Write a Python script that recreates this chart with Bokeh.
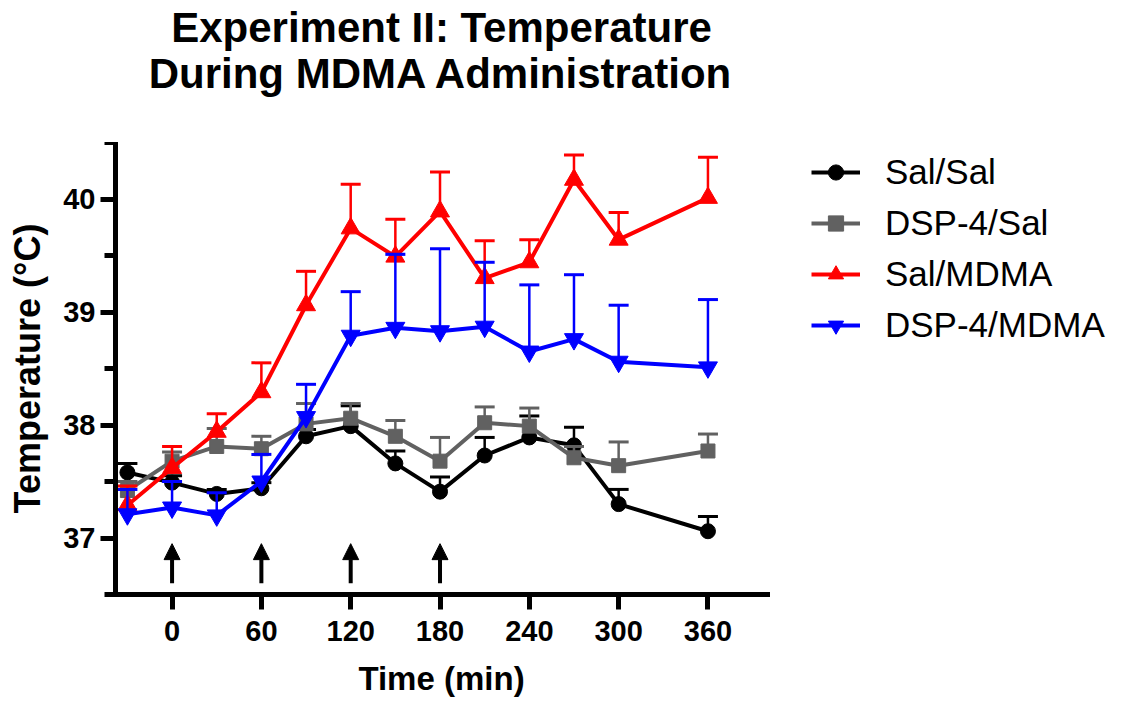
from bokeh.plotting import figure
from bokeh.models import FixedTicker, Arrow, NormalHead, Legend, LegendItem, Range1d, Label
from bokeh.layouts import row, column
from bokeh.embed import file_html
from bokeh.resources import INLINE

# ---- data ----
time_min = [-30, 0, 30, 60, 90, 120, 150, 180, 210, 240, 270, 300, 360]

sal_sal = [37.58, 37.49, 37.39, 37.44, 37.90, 37.99, 37.66, 37.41, 37.73, 37.89, 37.82, 37.30, 37.06]
sal_sal_sem = [0.08, 0.06, 0.04, 0.05, 0.06, 0.18, 0.11, 0.13, 0.16, 0.19, 0.16, 0.13, 0.13]

dsp_sal = [37.42, 37.68, 37.81, 37.79, 38.01, 38.06, 37.90, 37.68, 38.02, 37.99, 37.71, 37.64, 37.77]
dsp_sal_sem = [0.08, 0.08, 0.16, 0.11, 0.18, 0.13, 0.14, 0.21, 0.14, 0.16, 0.10, 0.21, 0.15]

sal_mdma = [37.29, 37.62, 37.94, 38.29, 39.06, 39.74, 39.49, 39.89, 39.30, 39.44, 40.17, 39.64, 40.01]
sal_mdma_sem = [0.17, 0.19, 0.16, 0.26, 0.30, 0.39, 0.33, 0.35, 0.33, 0.20, 0.22, 0.24, 0.36]

dsp_mdma = [37.21, 37.27, 37.20, 37.50, 38.07, 38.79, 38.86, 38.83, 38.87, 38.65, 38.76, 38.56, 38.51]
dsp_mdma_sem = [0.22, 0.23, 0.20, 0.24, 0.29, 0.39, 0.65, 0.73, 0.57, 0.59, 0.57, 0.50, 0.60]

x_ticks = [0, 60, 120, 180, 240, 300, 360]
y_ticks = [37, 38, 39, 40]
y_minor_ticks = [36.5, 37.5, 38.5, 39.5, 40.5]
injection_times = [0, 60, 120, 180]
arrow_tail, arrow_tip = 36.6, 36.95

title_lines = ["Experiment II: Temperature", "During MDMA Administration"]

series = [
    ("Sal/Sal", sal_sal, sal_sal_sem, "#000000", "circle", 15),
    ("DSP-4/Sal", dsp_sal, dsp_sal_sem, "#616161", "square", 14),
    ("Sal/MDMA", sal_mdma, sal_mdma_sem, "#FF0000", "triangle", 19),
    ("DSP-4/MDMA", dsp_mdma, dsp_mdma_sem, "#0000FF", "inverted_triangle", 19),
]

FONT = "Liberation Sans"
W, H = 1121, 702
TOP_H = 142          # title strip height
MAIN_W = 790         # main plot width
LEG_W = W - MAIN_W   # legend strip width

# ---------------- title strip ----------------
tf = figure(width=W, height=TOP_H, output_backend="svg", toolbar_location=None,
            x_range=Range1d(0, W), y_range=Range1d(0, TOP_H),
            x_axis_type=None, y_axis_type=None, title=None,
            min_border_left=0, min_border_right=0, min_border_top=0, min_border_bottom=0)
tf.outline_line_color = None
tf.grid.visible = False
title_cx = 441
title_base = [TOP_H - 27, TOP_H - 73]
for txt, ty in zip(title_lines, title_base):
    tf.add_layout(Label(x=title_cx, y=ty, text=txt, text_align="center", text_baseline="alphabetic",
                        text_font=FONT, text_font_size="42px", text_font_style="bold",
                        text_color="black"))

# ---------------- main plot ----------------
p = figure(width=MAIN_W, height=H - TOP_H, output_backend="svg", toolbar_location=None,
           x_range=Range1d(-38, 400), y_range=Range1d(36.5, 40.5), title=None,
           min_border_left=115, min_border_right=MAIN_W - 767, min_border_top=0,
           min_border_bottom=108)
p.outline_line_color = None
p.grid.visible = False

for ax in (p.xaxis[0], p.yaxis[0]):
    ax.axis_line_width = 5
    ax.axis_line_cap = "square"
    ax.axis_line_color = "black"
    ax.major_tick_line_color = "black"
    ax.minor_tick_line_color = "black"
    ax.major_tick_line_width = 5
    ax.minor_tick_line_width = 5
    ax.major_tick_in = 0
    ax.minor_tick_in = 0
    ax.major_tick_out = 15
    ax.major_label_text_font = FONT
    ax.major_label_text_font_style = "bold"
    ax.major_label_text_font_size = "29px"
    ax.major_label_text_color = "black"
    ax.axis_label_text_font = FONT
    ax.axis_label_text_font_style = "bold"
    ax.axis_label_text_color = "black"

p.xaxis.ticker = FixedTicker(ticks=x_ticks)
p.xaxis.minor_tick_out = 0
p.xaxis.major_label_standoff = 11
p.xaxis.axis_label = "Time (min)"
p.xaxis.axis_label_text_font_size = "33px"
p.xaxis.axis_label_standoff = 16

p.yaxis.ticker = FixedTicker(ticks=y_ticks, minor_ticks=y_minor_ticks)
p.yaxis.minor_tick_out = 11
p.yaxis.major_label_standoff = 5
p.yaxis.axis_label = "Temperature (\u00b0C)"
p.yaxis.axis_label_text_font_size = "36px"
p.yaxis.axis_label_standoff = 12

for name, vals, sems, color, marker, size in series:
    hi = [v + s for v, s in zip(vals, sems)]
    p.segment(x0=time_min, y0=vals, x1=time_min, y1=hi, line_color=color, line_width=2.5)
    p.scatter(x=time_min, y=hi, marker="dash", size=20, line_color=color, line_width=3)
    p.line(x=time_min, y=vals, line_color=color, line_width=4)
    p.scatter(x=time_min, y=vals, marker=marker, size=size, fill_color=color, line_color=color, line_width=1)

for t in injection_times:
    p.add_layout(Arrow(x_start=t, y_start=arrow_tail, x_end=t, y_end=arrow_tip, line_width=4,
                       line_color="black",
                       end=NormalHead(size=16, fill_color="black", line_color="black", line_width=1)))

# ---------------- legend strip ----------------
# (legend proxies: one off-screen point per series, so only the legend swatches show)
lf = figure(width=LEG_W, height=H - TOP_H, output_backend="svg", toolbar_location=None,
            x_range=Range1d(0, 1), y_range=Range1d(0, 1),
            x_axis_type=None, y_axis_type=None, title=None,
            min_border_left=0, min_border_right=0, min_border_top=0, min_border_bottom=0)
lf.outline_line_color = None
lf.grid.visible = False
items = []
for name, vals, sems, color, marker, size in series:
    ln = lf.line(x=[-5, -4], y=[-5, -4], line_color=color, line_width=4)
    sc = lf.scatter(x=[-5], y=[-5], marker=marker, size=size, fill_color=color, line_color=color, line_width=1)
    items.append(LegendItem(label=name, renderers=[ln, sc]))
legend = Legend(items=items, location=(21, 249), glyph_width=49, glyph_height=38,
                label_standoff=25, spacing=11, padding=0, margin=0,
                label_text_font=FONT, label_text_font_size="35px", label_text_color="black",
                border_line_color=None, background_fill_alpha=0)
lf.add_layout(legend, "center")

layout = column(tf, row(p, lf, spacing=0), spacing=0)
open("out.html", "w").write(file_html(layout, INLINE))
